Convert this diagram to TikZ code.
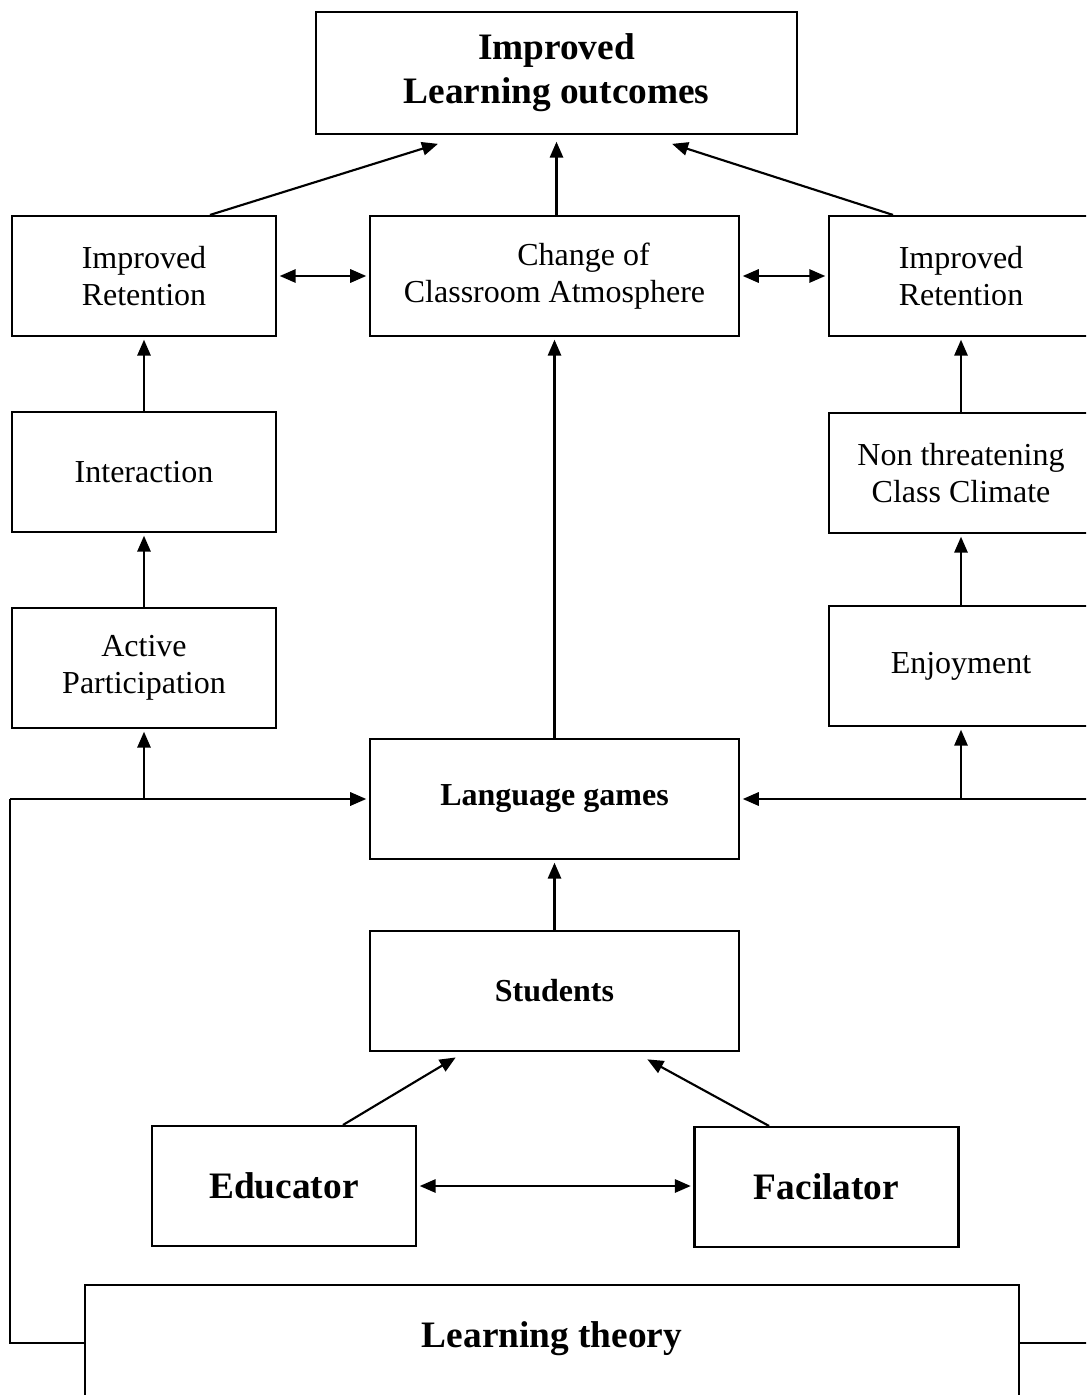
\documentclass[tikz,border=0pt]{standalone}
\usepackage{fontspec}
\setmainfont{Liberation Serif}
\usetikzlibrary{arrows.meta,calc}

\tikzset{
  box/.style={draw, line width=0.8pt, align=center, minimum width=99pt, minimum height=45pt, inner sep=2pt, font=\fontsize{12}{14}\selectfont},
  bigbox/.style={box, font=\fontsize{14}{16.5}\selectfont\bfseries},
  arr/.style={line width=0.8pt, -{Triangle[length=6pt,width=5pt]}, shorten >=1pt},
  darr/.style={line width=0.8pt, {Triangle[length=6pt,width=5pt]}-{Triangle[length=6pt,width=5pt]}, shorten >=1pt, shorten <=1pt},
  ln/.style={line width=0.8pt}
}

\begin{document}
\begin{tikzpicture}[x=0.375pt, y=-0.375pt]
\useasboundingbox[clip] (0,0) rectangle (1086,1395);
% top row
\node[bigbox, minimum width=180.4pt, minimum height=45.75pt] (outcome) at (556.5,73) {Improved\\Learning outcomes};
\node[box] (retL) at (144,276) {Improved\\Retention};
\node[box, minimum width=138.4pt] (change) at (554.5,276) {\hspace{21.75pt}Change of\\Classroom Atmosphere};
\node[box] (retR) at (961,276) {Improved\\Retention};
% side columns
\node[box] (inter) at (144,472) {Interaction};
\node[box] (nonthr) at (961,473) {Non threatening\\Class Climate};
\node[box] (active) at (144,668) {Active\\Participation};
\node[box] (enjoy) at (961,666) {Enjoyment};
% middle
\node[box, minimum width=138.4pt, font=\fontsize{12}{14}\selectfont\bfseries] (lang) at (554.5,799) {Language games};
\node[box, minimum width=138.4pt, font=\fontsize{12}{14}\selectfont\bfseries] (stud) at (554.5,991) {Students};
\node[bigbox] (educ) at (284,1186) {Educator};
\node[bigbox] (facil) at (826.5,1187) {Facilator};
\node[bigbox, minimum width=350.25pt, minimum height=54pt] (theory) at (552,1357) {Learning theory\\\mbox{}};

% arrows to the top
\draw[arr] ($(retL.north)+(66,0)$) -- ($(outcome.south)+(-116,8)$);
\draw[arr] (change.north -| outcome.south) -- ($(outcome.south)+(0,4)$);
\draw[arr] ($(retR.north)+(-68,0)$) -- ($(outcome.south)+(113,8)$);
\draw[darr] (retL.east) -- (change.west);
\draw[darr] (change.east) -- (retR.west);

% left column
\draw[arr] (inter.north) -- (retL.south);
\draw[arr] (active.north) -- (inter.south);
\draw[arr] (active.south |- lang.west) -- (active.south);
% right column
\draw[arr] (nonthr.north) -- (retR.south);
\draw[arr] (enjoy.north) -- (nonthr.south);
\draw[arr] (enjoy.south |- lang.east) -- (enjoy.south);

% middle
\draw[arr] (lang.north) -- (change.south);
\draw[arr] (stud.north) -- (lang.south);
\draw[arr] ($(educ.north)+(59,0)$) -- ($(stud.south)+(-96.5,4)$);
\draw[arr] ($(facil.north)+(-57.5,0)$) -- ($(stud.south)+(90.5,6)$);
\draw[darr] (educ.east) -- (educ.east -| facil.west);

% learning theory loops
\coordinate (tl) at (10,1343);
\coordinate (tr) at (1090,1343);
\draw[ln] (theory.west |- tl) -- (tl) -- (tl |- lang.west);
\draw[arr] (tl |- lang.west) -- (lang.west);
\draw[ln] (theory.east |- tr) -- (tr) -- (tr |- lang.east);
\draw[arr] (tr |- lang.east) -- (lang.east);
\end{tikzpicture}
\end{document}
